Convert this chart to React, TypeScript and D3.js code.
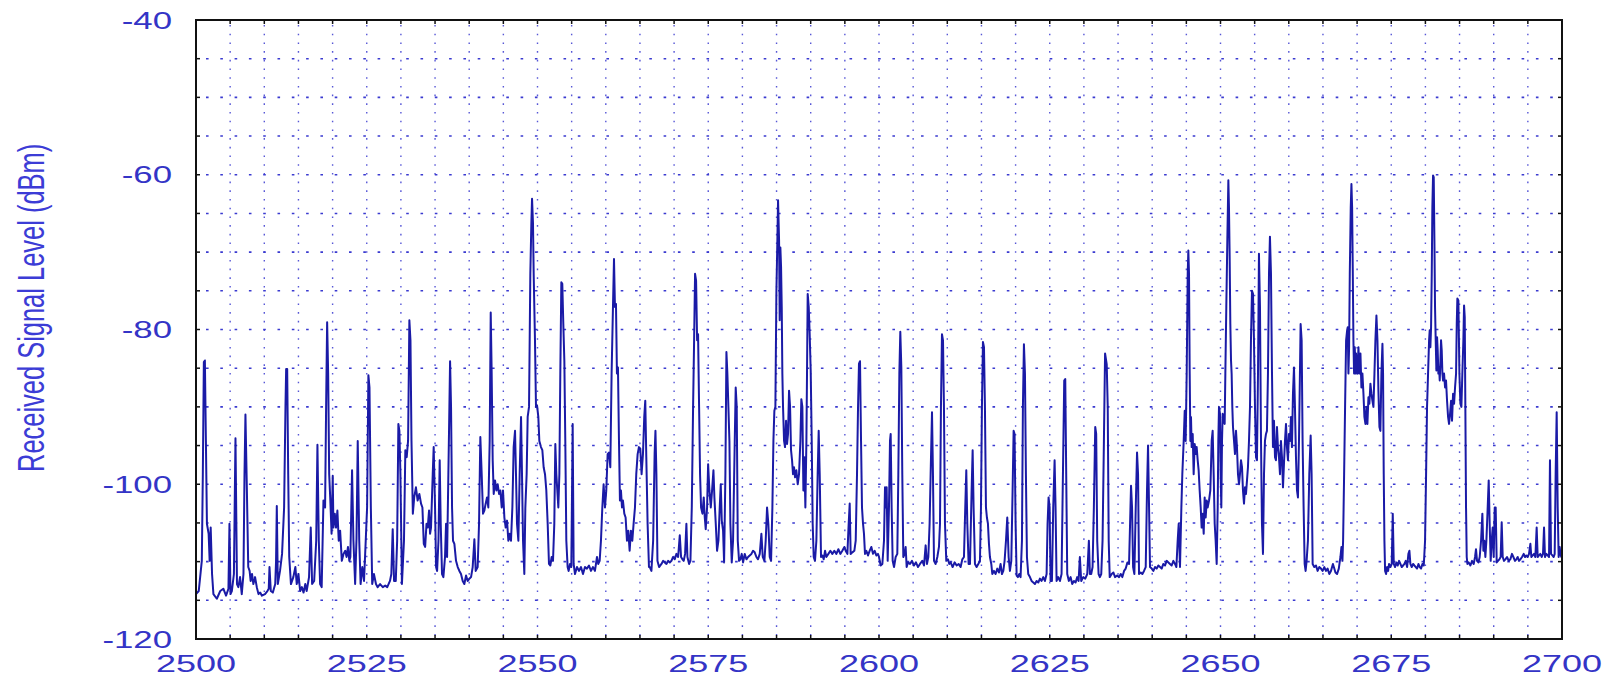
import React from "react";
import * as d3 from "d3";

// Received signal level trace, [frequency MHz, level dBm]
const band2500: [number, number][] = [[2500.0,-114.2],[2500.4,-113.8],[2500.85,-109.9],[2501.0,-98.7],[2501.15,-84.2],[2501.3,-84.0],[2501.45,-94.4],[2501.6,-105.1],[2501.85,-106.4],[2502.0,-109.9],[2502.15,-105.6],[2502.35,-111.6],[2502.55,-114.2],[2503.05,-114.8],[2503.55,-113.8],[2504.0,-113.5],[2504.4,-114.4],[2504.75,-113.5],[2504.9,-105.1],[2505.05,-114.2],[2505.25,-113.8],[2505.55,-111.6],[2505.78,-94.05],[2506.0,-112.9],[2506.2,-113.3],[2506.45,-112.0],[2506.7,-114.2],[2506.95,-111.6],[2507.1,-98.7],[2507.24,-91.0],[2507.45,-100.8],[2507.65,-110.7],[2507.85,-111.2],[2508.0,-112.5],[2508.2,-111.6],[2508.4,-112.9],[2508.65,-112.0],[2508.9,-113.3],[2509.15,-114.2],[2509.4,-114.0],[2509.65,-114.4],[2510.1,-114.2],[2510.45,-113.8],[2510.65,-113.5],[2510.76,-110.7],[2510.95,-113.8],[2511.25,-114.0],[2511.6,-112.9],[2511.72,-110.0],[2511.83,-102.8],[2511.98,-112.9],[2512.3,-111.2],[2512.6,-109.0],[2512.9,-103.0],[2513.1,-90],[2513.2,-85.1],[2513.35,-85.1],[2513.5,-98.7],[2513.65,-109.4],[2513.9,-112.9],[2514.25,-112.0],[2514.55,-110.7],[2514.75,-112.9],[2515.0,-111.6],[2515.25,-113.8],[2515.5,-113.3],[2515.75,-114.0],[2516.0,-112.9],[2516.2,-113.8],[2516.55,-112.0],[2516.8,-105.6],[2517.0,-112.9],[2517.3,-112.5],[2517.6,-107.3],[2517.78,-94.9],[2517.98,-107.3],[2518.17,-112.9],[2518.4,-113.3],[2518.66,-102.1],[2518.9,-103.0],[2519.05,-90.0],[2519.2,-79.05],[2519.35,-85.7],[2519.5,-98.7],[2519.65,-101.7],[2519.85,-106.4],[2520.02,-98.9],[2520.12,-105.6],[2520.32,-103.8],[2520.5,-105.6],[2520.7,-103.4],[2520.9,-107.3],[2521.1,-106.0],[2521.35,-109.9],[2521.6,-109.0],[2521.85,-108.6],[2522.05,-109.4],[2522.25,-108.1],[2522.45,-109.9],[2522.6,-109.4],[2522.85,-98.2],[2523.05,-107.3],[2523.3,-112.9],[2523.5,-107],[2523.68,-94.4],[2523.9,-107.3],[2524.1,-112.9],[2524.35,-110.7],[2524.6,-112.5],[2524.85,-107.3],[2525.05,-103.0],[2525.24,-85.9],[2525.4,-87.5],[2525.6,-103.0],[2525.8,-112.9],[2526.05,-111.6],[2526.35,-112.9],[2526.6,-113.3],[2526.95,-112.9],[2527.35,-113.3],[2527.7,-113.1],[2528.0,-113.3],[2528.4,-112.5],[2528.6,-111.6],[2528.8,-105.8],[2529.0,-112.5],[2529.25,-112.5],[2529.45,-107.3],[2529.63,-92.2],[2529.78,-93.1],[2529.93,-98.7],[2530.15,-112.9],[2530.45,-107.3],[2530.65,-95.6],[2530.85,-96.5],[2531.05,-94.4],[2531.24,-78.8],[2531.4,-81.4],[2531.55,-94.4],[2531.75,-103.8],[2531.95,-101.7],[2532.2,-100.4],[2532.45,-102.1],[2532.7,-101.25],[2532.95,-102.5]];

const band2533: [number, number][] = [[2533.15,-103.0],[2533.35,-107.7],[2533.55,-108.1],[2533.75,-105.1],[2533.93,-105.6],[2534.12,-103.4],[2534.27,-106.4],[2534.41,-105.6],[2534.66,-98.7],[2534.8,-95.2],[2535.0,-103.0],[2535.15,-110.7],[2535.3,-111.2],[2535.5,-107.3],[2535.68,-96.9],[2535.83,-105.1],[2536.02,-111.6],[2536.22,-112.0],[2536.46,-109.4],[2536.61,-105.1],[2536.76,-109.4],[2536.95,-98.7],[2537.1,-90.0],[2537.2,-84.1],[2537.34,-90.0],[2537.49,-103.0],[2537.63,-107.3],[2537.83,-107.7],[2538.07,-109.9],[2538.32,-110.7],[2538.56,-111.2],[2538.8,-111.6],[2539.05,-112.5],[2539.29,-112.9],[2539.54,-111.8],[2539.78,-112.5],[2540.02,-112.2],[2540.27,-112.0],[2540.51,-110.7],[2540.76,-107.1],[2540.95,-111.2],[2541.24,-110.7],[2541.44,-105.1],[2541.63,-93.9],[2541.83,-98.7],[2542.02,-103.8],[2542.22,-103.4],[2542.41,-102.5],[2542.61,-101.7],[2542.8,-103.0],[2543.0,-94.4],[2543.15,-77.8],[2543.29,-85.7],[2543.44,-96.9],[2543.59,-101.25],[2543.78,-99.5],[2543.98,-100.8],[2544.17,-100.0],[2544.37,-101.25],[2544.56,-100.8],[2544.76,-103.0],[2544.95,-100.8],[2545.15,-104.3],[2545.34,-105.6],[2545.54,-104.7],[2545.73,-107.3],[2545.93,-106.4],[2546.12,-107.3],[2546.32,-103.0],[2546.51,-95.2],[2546.71,-93.1],[2546.85,-98.7],[2547.0,-105.1],[2547.2,-107.3],[2547.39,-98.7],[2547.59,-91.3],[2547.73,-98.7],[2547.88,-107.3],[2548.07,-111.6],[2548.22,-103.0],[2548.41,-98.7],[2548.56,-91.3],[2548.76,-90.0],[2548.95,-72.8],[2549.1,-66.3],[2549.2,-63.1],[2549.34,-66.3],[2549.44,-72.8],[2549.63,-81.4],[2549.78,-90.0],[2549.93,-89.8],[2550.12,-91.3],[2550.27,-94.4],[2550.51,-95.2],[2550.71,-95.6],[2550.9,-97.8],[2551.1,-98.7],[2551.29,-100.8],[2551.49,-105.1],[2551.68,-110.3],[2551.88,-110.5],[2552.07,-109.4],[2552.27,-109.9],[2552.46,-105.1],[2552.61,-94.8],[2552.76,-98.7],[2552.9,-100.8],[2553.05,-103.0],[2553.2,-98.7],[2553.34,-85.7],[2553.49,-73.9],[2553.63,-74.1],[2553.78,-79.3],[2553.93,-84.0],[2554.07,-94.4],[2554.22,-107.3],[2554.41,-110.7],[2554.56,-111.2],[2554.76,-110.3],[2554.95,-110.7],[2555.15,-92.2],[2555.29,-110.3],[2555.49,-111.6],[2555.78,-110.7],[2556.07,-111.2],[2556.37,-110.7],[2556.66,-111.6],[2556.95,-110.7],[2557.24,-110.9],[2557.54,-110.5],[2557.83,-111.2],[2558.12,-110.7],[2558.41,-111.2],[2558.71,-109.4],[2558.9,-110.3],[2559.1,-109.9],[2559.29,-107.3],[2559.49,-103.0],[2559.68,-100.0],[2559.88,-103.0],[2560.07,-100.8],[2560.27,-96.1],[2560.46,-95.9],[2560.66,-97.8],[2560.85,-85.7],[2561.05,-77.1],[2561.2,-70.9],[2561.34,-77.1],[2561.49,-76.7],[2561.63,-85.7],[2561.78,-84.9],[2561.93,-94.4],[2562.07,-102.1],[2562.22,-100.8],[2562.37,-103.0],[2562.51,-102.1],[2562.71,-103.8],[2562.9,-104.3],[2563.1,-107.3],[2563.29,-106.0],[2563.49,-108.6],[2563.68,-106.0],[2563.88,-107.3],[2564.07,-105.1],[2564.27,-103.0],[2564.46,-98.7],[2564.66,-96.1],[2564.85,-95.2],[2565.05,-95.4],[2565.24,-98.7],[2565.44,-96.1],[2565.63,-91.3],[2565.78,-89.2],[2565.93,-96.5],[2566.12,-105.1],[2566.32,-110.7]];

const band2566: [number, number][] = [[2566.44,-110.7],[2566.68,-111.2],[2566.93,-107.3],[2567.15,-96],[2567.27,-93.1],[2567.41,-98.7],[2567.56,-109.9],[2567.8,-110.7],[2568.15,-110.3],[2568.4,-109.9],[2568.63,-110.1],[2568.88,-110.3],[2569.12,-109.9],[2569.37,-110.1],[2569.61,-109.9],[2569.85,-109.4],[2570.1,-109.7],[2570.34,-109.0],[2570.59,-109.4],[2570.83,-106.6],[2571.02,-109.4],[2571.22,-109.7],[2571.41,-109.9],[2571.61,-109.0],[2571.8,-105.1],[2571.95,-109.4],[2572.2,-110.3],[2572.39,-109.9],[2572.59,-103.0],[2572.78,-90.0],[2572.93,-81.4],[2573.07,-72.8],[2573.22,-73.7],[2573.37,-81.4],[2573.51,-80.6],[2573.66,-90.0],[2573.8,-98.7],[2573.95,-103.0],[2574.15,-103.8],[2574.34,-101.7],[2574.49,-104.3],[2574.63,-105.8],[2574.83,-103.0],[2574.98,-97.4],[2575.17,-100.8],[2575.37,-103.0],[2575.56,-100.8],[2575.76,-98.2],[2575.9,-101.7],[2576.1,-105.1],[2576.29,-108.6],[2576.49,-107.3],[2576.68,-103.0],[2576.83,-100.0],[2576.98,-104.7],[2577.17,-106.0],[2577.32,-110.1],[2577.51,-98.7],[2577.66,-82.9],[2577.8,-85.7],[2577.95,-90.0],[2578.1,-94.4],[2578.24,-105.1],[2578.44,-110.1],[2578.63,-107.3],[2578.88,-94.4],[2579.02,-87.5],[2579.17,-90.0],[2579.32,-107.3],[2579.51,-109.9],[2579.71,-109.7],[2579.9,-109.0],[2580.1,-110.1],[2580.34,-109.0],[2580.59,-109.7],[2580.83,-109.4],[2581.07,-109.2],[2581.32,-109.0],[2581.56,-108.6],[2581.8,-108.8],[2582.05,-109.4],[2582.29,-109.7],[2582.54,-109.0],[2582.78,-106.4],[2582.98,-109.4],[2583.22,-109.9],[2583.41,-107.3],[2583.61,-103.0],[2583.8,-105.1],[2584.0,-109.4],[2584.2,-109.9],[2584.39,-103.0],[2584.54,-94.4],[2584.68,-90.5],[2584.83,-90.0],[2584.98,-75.0],[2585.12,-68.5],[2585.22,-63.3],[2585.37,-68.5],[2585.46,-78.8],[2585.56,-69.4],[2585.66,-71.9],[2585.76,-77.1],[2585.85,-85.7],[2585.95,-90.0],[2586.1,-94.4],[2586.24,-95.2],[2586.39,-91.8],[2586.54,-94.8],[2586.68,-93.5],[2586.83,-87.9],[2586.98,-90.0],[2587.12,-95.6],[2587.27,-96.9],[2587.41,-98.7],[2587.56,-97.8],[2587.71,-99.1],[2587.9,-98.2],[2588.1,-100.0],[2588.29,-98.7],[2588.49,-94.4],[2588.63,-89.0],[2588.78,-90.0],[2588.93,-100.8],[2589.07,-96.5],[2589.22,-103.0],[2589.37,-94.4],[2589.46,-85.7],[2589.56,-75.4],[2589.71,-77.1],[2589.85,-80.6],[2590.0,-85.3],[2590.15,-94.4],[2590.29,-105.1],[2590.44,-109.4],[2590.63,-109.9],[2590.83,-107.3],[2591.02,-98.7],[2591.17,-93.1],[2591.32,-98.7],[2591.51,-109.4],[2591.71,-109.2],[2591.9,-109.7],[2592.1,-108.6],[2592.29,-109.4],[2592.59,-109.0],[2592.88,-108.6],[2593.17,-109.0],[2593.46,-108.6],[2593.76,-109.0],[2594.05,-108.4],[2594.34,-109.0],[2594.63,-108.6],[2594.93,-108.1],[2595.12,-108.6],[2595.37,-109.0],[2595.56,-105.1],[2595.71,-102.5],[2595.85,-109.0],[2596.1,-108.8],[2596.39,-108.6],[2596.59,-107.3],[2596.78,-98.7],[2596.93,-90.0],[2597.07,-84.4],[2597.22,-84.1],[2597.37,-94.4],[2597.51,-103.0],[2597.66,-105.1],[2597.8,-106.4],[2597.95,-109.0],[2598.15,-108.6],[2598.39,-109.2],[2598.63,-108.6],[2598.88,-108.1],[2599.12,-109.0],[2599.37,-108.6],[2599.61,-109.2],[2599.85,-109.0]];

const band2600: [number, number][] = [[2600.0,-109.4],[2600.24,-110.5],[2600.49,-110.3],[2600.73,-107.3],[2600.88,-100.4],[2601.02,-103.0],[2601.12,-100.4],[2601.27,-109.9],[2601.46,-103.0],[2601.61,-94.4],[2601.71,-93.5],[2601.85,-103.0],[2602.0,-109.9],[2602.2,-110.7],[2602.44,-109.4],[2602.68,-109.0],[2602.83,-98.7],[2602.98,-85.7],[2603.12,-80.3],[2603.27,-84.9],[2603.41,-98.7],[2603.56,-109.4],[2603.76,-109.0],[2603.9,-108.1],[2604.05,-110.7],[2604.24,-110.1],[2604.54,-110.3],[2604.83,-109.9],[2605.12,-110.5],[2605.41,-110.1],[2605.71,-110.7],[2606.0,-110.3],[2606.34,-109.9],[2606.59,-110.5],[2606.83,-107.9],[2607.02,-110.3],[2607.22,-109.4],[2607.41,-105.1],[2607.56,-98.7],[2607.76,-90.7],[2607.9,-98.7],[2608.05,-109.9],[2608.29,-110.3],[2608.54,-109.4],[2608.78,-108.1],[2608.93,-105.1],[2609.07,-90.0],[2609.22,-80.6],[2609.37,-81.4],[2609.51,-90.0],[2609.66,-105.1],[2609.85,-109.9],[2610.1,-109.7],[2610.29,-110.3],[2610.49,-110.1],[2610.78,-110.7],[2611.07,-110.1],[2611.37,-110.5],[2611.66,-110.3],[2611.95,-110.7],[2612.2,-109.7],[2612.44,-109.4],[2612.63,-103.0],[2612.78,-98.2],[2612.93,-105.1],[2613.12,-110.3],[2613.32,-110.3],[2613.56,-100.8],[2613.71,-95.6],[2613.85,-103.0],[2614.05,-110.3],[2614.29,-110.7],[2614.54,-110.3],[2614.78,-109.9],[2614.93,-103.0],[2615.07,-90.0],[2615.22,-81.6],[2615.37,-82.3],[2615.51,-90.0],[2615.66,-103.0],[2615.8,-104.3],[2615.95,-105.1],[2616.1,-107.7],[2616.24,-109.4],[2616.44,-110.3],[2616.59,-111.6],[2616.83,-111.2],[2617.07,-111.6],[2617.32,-110.9],[2617.56,-111.4],[2617.8,-110.3],[2618.0,-111.6],[2618.2,-111.2],[2618.39,-109.9],[2618.59,-107.3],[2618.78,-104.3],[2618.98,-109.4],[2619.17,-111.2],[2619.37,-109.9],[2619.56,-100.8],[2619.71,-93.1],[2619.85,-93.5],[2620.0,-105.1],[2620.15,-111.8],[2620.34,-112.0],[2620.54,-111.6],[2620.73,-112.0],[2620.93,-107.3],[2621.07,-90.0],[2621.22,-81.9],[2621.37,-85.7],[2621.51,-98.7],[2621.66,-109.4],[2621.85,-111.6],[2622.1,-112.0],[2622.34,-112.5],[2622.59,-112.7],[2622.83,-112.9],[2623.07,-112.5],[2623.32,-112.7],[2623.56,-112.2],[2623.8,-112.5],[2624.05,-112.0],[2624.29,-112.5],[2624.54,-111.6],[2624.68,-105.1],[2624.83,-101.7],[2624.98,-103.0],[2625.12,-112.5],[2625.32,-112.5],[2625.51,-103.0],[2625.71,-96.9],[2625.85,-103.0],[2626.0,-112.5],[2626.24,-112.0],[2626.49,-112.5],[2626.73,-111.6],[2626.93,-98.7],[2627.12,-86.6],[2627.27,-86.4],[2627.41,-98.7],[2627.56,-111.6],[2627.8,-112.5],[2628.05,-112.0],[2628.29,-112.9],[2628.54,-112.5],[2628.78,-112.7],[2629.02,-112.0],[2629.22,-112.5],[2629.41,-109.4],[2629.61,-112.5],[2629.9,-112.0],[2630.2,-112.2],[2630.49,-111.6],[2630.73,-107.3],[2630.88,-111.6],[2631.07,-111.6],[2631.27,-110.7],[2631.46,-103.0],[2631.66,-92.6],[2631.8,-93.5],[2631.95,-107.3],[2632.15,-111.6],[2632.34,-112.0],[2632.54,-111.6],[2632.73,-107.3],[2632.93,-94.4],[2633.1,-83.1]];

const band2633: [number, number][] = [[2633.34,-84.5],[2633.49,-90.0],[2633.63,-107.3],[2633.78,-112.0],[2634.07,-111.6],[2634.32,-111.4],[2634.56,-112.0],[2634.85,-111.8],[2635.15,-112.0],[2635.39,-111.6],[2635.63,-112.0],[2635.88,-111.2],[2636.12,-110.9],[2636.37,-110.1],[2636.61,-110.3],[2636.76,-105.1],[2636.9,-100.2],[2637.05,-103.0],[2637.2,-110.7],[2637.39,-111.6],[2637.59,-103.0],[2637.78,-95.9],[2637.93,-98.7],[2638.07,-111.6],[2638.32,-111.4],[2638.56,-111.6],[2638.8,-111.2],[2639.05,-110.7],[2639.24,-100.8],[2639.39,-95.0],[2639.54,-103.0],[2639.68,-110.7],[2639.93,-110.9],[2640.17,-111.2],[2640.41,-110.7],[2640.66,-110.9],[2640.9,-110.5],[2641.15,-110.7],[2641.39,-110.9],[2641.63,-110.3],[2641.88,-110.5],[2642.12,-109.9],[2642.37,-110.1],[2642.61,-110.3],[2642.85,-110.5],[2643.1,-109.9],[2643.34,-110.3],[2643.54,-110.7],[2643.73,-107.3],[2643.88,-105.1],[2644.07,-110.7],[2644.27,-103.0],[2644.41,-98.7],[2644.61,-94.4],[2644.76,-90.5],[2644.9,-94.4],[2645.05,-85.7],[2645.2,-72.8],[2645.29,-69.8],[2645.39,-72.8],[2645.49,-85.7],[2645.59,-94.4],[2645.68,-91.3],[2645.78,-95.2],[2645.93,-93.5],[2646.07,-98.7],[2646.22,-94.8],[2646.37,-96.1],[2646.51,-95.2],[2646.66,-96.9],[2646.8,-98.2],[2646.95,-100.8],[2647.1,-103.0],[2647.24,-105.6],[2647.39,-103.8],[2647.54,-106.4],[2647.68,-101.7],[2647.83,-104.3],[2647.98,-102.1],[2648.12,-103.0],[2648.32,-102.1],[2648.51,-100.8],[2648.71,-94.4],[2648.85,-93.1],[2649.0,-98.7],[2649.15,-105.1],[2649.29,-107.3],[2649.44,-110.3],[2649.59,-103.0],[2649.68,-94.4],[2649.78,-90.0],[2649.93,-90.9],[2650.02,-98.7],[2650.12,-103.0],[2650.22,-94.4],[2650.32,-90.9],[2650.46,-91.8],[2650.61,-92.2],[2650.71,-85.7],[2650.85,-77.1],[2651.0,-68.5],[2651.15,-60.7],[2651.24,-64.2],[2651.34,-70.6],[2651.44,-79.3],[2651.54,-84.0],[2651.63,-85.7],[2651.73,-90.0],[2651.83,-92.6],[2651.98,-94.4],[2652.12,-96.1],[2652.27,-93.1],[2652.41,-95.2],[2652.56,-98.7],[2652.71,-100.0],[2652.85,-98.7],[2653.0,-96.9],[2653.15,-97.8],[2653.29,-100.8],[2653.44,-102.5],[2653.59,-100.4],[2653.73,-101.25],[2653.88,-99.5],[2654.02,-97.8],[2654.17,-94.4],[2654.32,-90.0],[2654.46,-81.4],[2654.61,-75.0],[2654.76,-75.4],[2654.9,-81.4],[2655.05,-90.0],[2655.2,-96.5],[2655.34,-96.9],[2655.49,-85.7],[2655.63,-70.2],[2655.78,-77.1],[2655.93,-94.4],[2656.07,-105.1],[2656.22,-109.0],[2656.37,-98.7],[2656.51,-94.4],[2656.66,-93.5],[2656.8,-93.1],[2656.95,-85.7],[2657.1,-72.8],[2657.24,-68.0],[2657.39,-72.8],[2657.54,-85.7],[2657.68,-95.2],[2657.83,-91.8],[2657.98,-96.5],[2658.12,-96.9],[2658.27,-92.6],[2658.41,-95.2],[2658.56,-96.5],[2658.71,-98.7],[2658.85,-94.4],[2659.0,-96.5],[2659.15,-100.4],[2659.29,-97.4],[2659.44,-94.4],[2659.59,-92.2],[2659.73,-95.2],[2659.88,-96.9],[2660.02,-93.5],[2660.17,-94.4],[2660.32,-91.3],[2660.46,-95.2],[2660.61,-88.3],[2660.76,-84.9],[2660.9,-90.0],[2661.05,-96.5],[2661.2,-100.8],[2661.34,-101.7],[2661.49,-94.4],[2661.63,-85.7],[2661.73,-79.3],[2661.88,-81.4],[2662.02,-94.4],[2662.17,-103.0],[2662.32,-110.3],[2662.46,-111.2],[2662.61,-109.9],[2662.8,-107.3],[2663.0,-98.7],[2663.2,-93.7],[2663.34,-98.7],[2663.49,-110.3],[2663.73,-110.7],[2663.98,-110.5],[2664.22,-111.2],[2664.46,-110.7],[2664.71,-110.9],[2664.95,-111.2],[2665.2,-110.7],[2665.44,-111.2],[2665.68,-110.9],[2665.93,-111.6],[2666.17,-111.2],[2666.46,-110.3],[2666.66,-110.9]];

const band2667: [number, number][] = [[2666.83,-111.4],[2667.07,-111.6],[2667.32,-110.9],[2667.56,-109.4],[2667.71,-108.1],[2667.85,-109.9],[2667.95,-107.3],[2668.1,-98.7],[2668.24,-90.0],[2668.39,-81.4],[2668.54,-80.1],[2668.63,-79.7],[2668.73,-85.7],[2668.83,-82.3],[2668.93,-72.8],[2669.07,-64.2],[2669.17,-61.2],[2669.27,-64.2],[2669.37,-72.8],[2669.46,-81.4],[2669.56,-85.7],[2669.66,-82.3],[2669.76,-85.7],[2669.85,-83.1],[2669.95,-85.3],[2670.05,-85.7],[2670.2,-82.3],[2670.34,-85.7],[2670.49,-83.1],[2670.63,-87.5],[2670.78,-85.7],[2670.93,-88.3],[2671.07,-91.3],[2671.22,-92.2],[2671.37,-90.0],[2671.51,-92.2],[2671.66,-88.75],[2671.8,-89.6],[2671.95,-87.0],[2672.1,-88.3],[2672.24,-89.2],[2672.39,-90.0],[2672.54,-85.7],[2672.68,-81.4],[2672.83,-78.2],[2672.98,-81.4],[2673.12,-87.9],[2673.27,-92.6],[2673.41,-93.1],[2673.56,-85.7],[2673.71,-81.85],[2673.8,-85.7],[2673.9,-98.7],[2674.0,-107.3],[2674.1,-111.2],[2674.24,-111.6],[2674.39,-110.7],[2674.54,-111.2],[2674.68,-110.3],[2674.88,-110.7],[2675.07,-110.3],[2675.22,-103.8],[2675.37,-110.3],[2675.56,-110.7],[2675.76,-110.1],[2675.95,-110.5],[2676.15,-109.9],[2676.34,-110.3],[2676.54,-110.7],[2676.73,-110.5],[2676.93,-110.3],[2677.12,-109.9],[2677.32,-110.7],[2677.51,-109.0],[2677.66,-108.6],[2677.8,-110.3],[2678.0,-110.7],[2678.2,-110.3],[2678.39,-110.5],[2678.59,-110.7],[2678.78,-110.9],[2678.98,-110.3],[2679.17,-110.7],[2679.37,-110.9],[2679.56,-110.3],[2679.76,-110.5],[2679.95,-107.3],[2680.1,-98.7],[2680.24,-90.0],[2680.39,-85.7],[2680.54,-81.4],[2680.63,-80.1],[2680.73,-82.3],[2680.83,-79.7],[2680.93,-72.8],[2681.02,-64.2],[2681.12,-60.1],[2681.22,-60.3],[2681.32,-68.5],[2681.41,-77.1],[2681.51,-81.4],[2681.61,-85.3],[2681.71,-81.0],[2681.8,-82.7],[2681.9,-85.7],[2682.0,-84.9],[2682.1,-86.6],[2682.2,-84.0],[2682.29,-81.4],[2682.39,-82.7],[2682.49,-85.7],[2682.59,-86.6],[2682.73,-85.7],[2682.88,-87.5],[2683.02,-86.6],[2683.17,-89.2],[2683.32,-91.3],[2683.46,-92.2],[2683.61,-90.9],[2683.76,-89.2],[2683.9,-91.8],[2684.05,-88.3],[2684.2,-89.6],[2684.34,-87.5],[2684.49,-85.7],[2684.59,-79.3],[2684.68,-76.0],[2684.83,-76.25],[2684.98,-85.7],[2685.12,-89.6],[2685.27,-90.0],[2685.41,-85.7],[2685.56,-81.4],[2685.66,-76.9],[2685.76,-78.4],[2685.85,-90.0],[2685.95,-103.0],[2686.05,-109.4],[2686.15,-110.3],[2686.34,-110.1],[2686.59,-110.5],[2686.83,-109.9],[2687.07,-110.3],[2687.27,-109.4],[2687.41,-108.4],[2687.56,-109.9],[2687.76,-110.1],[2687.95,-109.4],[2688.15,-107.3],[2688.34,-103.8],[2688.49,-108.6],[2688.63,-107.3],[2688.78,-109.4],[2688.93,-107.3],[2689.12,-103.0],[2689.27,-99.5],[2689.41,-105.1],[2689.56,-109.9],[2689.71,-107.3],[2689.85,-105.6],[2690.0,-109.4],[2690.15,-103.0],[2690.29,-103.0],[2690.44,-110.1],[2690.63,-109.9],[2690.83,-109.7],[2691.02,-109.4],[2691.17,-104.9],[2691.32,-109.4],[2691.51,-109.9],[2691.71,-109.7],[2691.95,-109.4],[2692.2,-109.9],[2692.44,-109.7],[2692.68,-109.0],[2692.88,-109.4],[2693.12,-109.9],[2693.32,-109.7],[2693.51,-109.4],[2693.71,-109.9],[2693.9,-109.7],[2694.15,-109.4],[2694.39,-109.0],[2694.59,-109.4],[2694.78,-109.2],[2694.98,-109.4],[2695.17,-109.0],[2695.37,-107.7],[2695.51,-109.4],[2695.71,-109.2],[2695.9,-109.0],[2696.1,-109.4],[2696.29,-105.6],[2696.44,-109.4],[2696.63,-109.2],[2696.83,-109.0],[2697.02,-109.4],[2697.22,-109.0],[2697.37,-105.6],[2697.51,-109.4],[2697.71,-109.0],[2697.9,-109.2],[2698.1,-109.4],[2698.24,-96.9],[2698.39,-109.0],[2698.59,-109.2],[2698.78,-109.4],[2698.93,-109.0],[2699.07,-98.7],[2699.22,-90.7],[2699.37,-103.0],[2699.51,-109.4],[2699.66,-108.1],[2699.76,-109.0],[2699.9,-109.4],[2700.0,-109.2]];

const xTickLabels = [2500, 2525, 2550, 2575, 2600, 2625, 2650, 2675, 2700];
const yTickLabels = [-120, -100, -80, -60, -40];
const yTitle = "Received Signal Level (dBm)";

const W = 1608;
const H = 679;
const L = 196, R = 1562, T = 20, B = 639;

export default function App() {
  const x = d3.scaleLinear().domain([2500, 2700]).range([L, R]);
  const y = d3.scaleLinear().domain([-120, -40]).range([B, T]);
  const data = [...band2500, ...band2533, ...band2566, ...band2600, ...band2633, ...band2667];
  const line = d3.line<[number, number]>().x(d => x(d[0])).y(d => y(d[1]));
  const xGrid = x.ticks(40).filter(v => v > 2500 && v < 2700);
  const yGrid = y.ticks(16).filter(v => v > -120 && v < -40);
  const xMinor = x.ticks(40);
  const yMinor = y.ticks(16);
  const labelColor = "#3434c6";
  const gridColor = "#3a3ad0";
  return (
    <svg width={W} height={H} style={{ position: "absolute", left: 0, top: 0, background: "#fff" }}
      fontFamily="'Liberation Sans', Arial, sans-serif">
      <rect x={0} y={0} width={W} height={H} fill="#fff" />
      {yGrid.map(v => (
        <line key={"hy" + v} x1={L} x2={R} y1={y(v)} y2={y(v)} stroke={gridColor}
          strokeWidth={1.6} strokeDasharray="2.6 11.7" strokeDashoffset={-10} />
      ))}
      {xGrid.map(v => (
        <line key={"vx" + v} x1={x(v)} x2={x(v)} y1={T} y2={B} stroke={gridColor}
          strokeWidth={1.4} strokeDasharray="1.6 7.1" strokeDashoffset={-5} opacity={0.85} />
      ))}
      <path d={line(data) || ""} fill="none" stroke="#1a1aa6" strokeWidth={2} strokeLinejoin="round" />
      {yMinor.map(v => (
        <g key={"ty" + v}>
          <line x1={L} x2={L + 4} y1={y(v)} y2={y(v)} stroke="#111" strokeWidth={1.5} />
          <line x1={R - 4} x2={R} y1={y(v)} y2={y(v)} stroke="#111" strokeWidth={1.5} />
        </g>
      ))}
      {xMinor.map(v => (
        <g key={"tx" + v}>
          <line x1={x(v)} x2={x(v)} y1={B - 4} y2={B} stroke="#111" strokeWidth={1.5} />
          <line x1={x(v)} x2={x(v)} y1={T} y2={T + 4} stroke="#111" strokeWidth={1.5} />
        </g>
      ))}
      <rect x={L} y={T} width={R - L} height={B - T} fill="none" stroke="#111" strokeWidth={2} />
      {yTickLabels.map(v => (
        <text key={"yl" + v} transform={`translate(172,${y(v) + 8.6}) scale(1.45,1)`}
          textAnchor="end" fontSize={24} fill={labelColor}>{v}</text>
      ))}
      {xTickLabels.map(v => (
        <text key={"xl" + v} transform={`translate(${x(v)},672) scale(1.5,1)`}
          textAnchor="middle" fontSize={24} fill={labelColor}>{v}</text>
      ))}
      <text transform="translate(44,472) rotate(-90) scale(0.688,1)" fontSize={37} fill="#3c3cd6">{yTitle}</text>
    </svg>
  );
}
